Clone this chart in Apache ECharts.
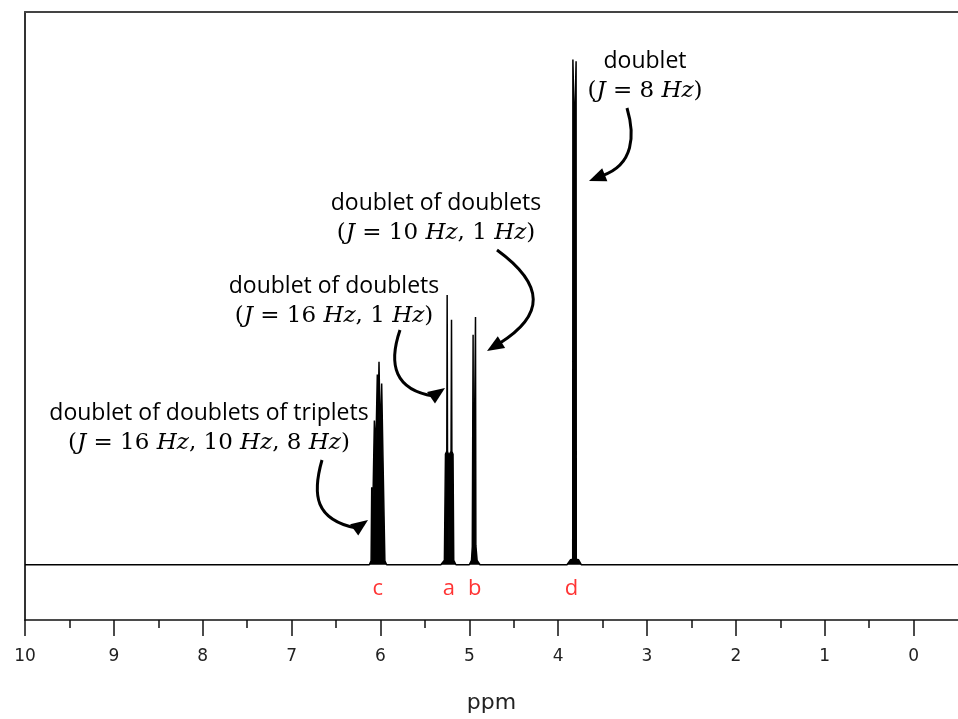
<!DOCTYPE html>
<html>
<head>
<meta charset="utf-8">
<script src="https://cdn.jsdelivr.net/npm/echarts@6/dist/echarts.min.js"></script>
<style>
  html, body { margin: 0; padding: 0; background: #fff; }
  #chart { width: 958px; height: 719px; }
</style>
</head>
<body>
<div id="chart"></div>
<script>
// spectrum trace: ppm and intensity (baseline = 0)
const specPpm = [
  10.0,
  6.125, 6.105, 6.098, 6.083, 6.068, 6.052, 6.035, 6.026, 6.016, 6.001, 5.986, 5.971, 5.956, 5.950, 5.930,
  5.320, 5.280, 5.268, 5.253, 5.249, 5.245, 5.235, 5.228, 5.222, 5.205, 5.200, 5.196, 5.183, 5.175, 5.150,
  5.000, 4.975, 4.966, 4.960, 4.957, 4.953, 4.935, 4.930, 4.926, 4.922, 4.912, 4.880,
  3.900, 3.860, 3.836, 3.834, 3.816, 3.798, 3.796, 3.770, 3.740,
  -0.5
];
const specInt = [
  0,
  0, 0.7, 14.0, 12.5, 26.1, 20.5, 34.4, 26.0, 36.7, 22.0, 32.8, 19.0, 18.9, 0.7, 0,
  0, 0.8, 20.0, 20.5, 48.8, 20.5, 20.0, 1.5, 20.0, 20.5, 44.3, 20.5, 20.0, 0.8, 0,
  0, 0.8, 3.3, 3.5, 41.6, 3.5, 3.5, 44.8, 3.5, 3.3, 0.8, 0,
  0, 0.9, 1.0, 91.4, 77.0, 91.1, 1.0, 0.9, 0,
  0
];

// peak assignment letters
const peakLabels = ['c', 'a', 'b', 'd'];
const peakLabelPpm = [6.03, 5.23, 4.94, 3.85];

// axis ticks
const majorTicks = [0, 1, 2, 3, 4, 5, 6, 7, 8, 9, 10];
const minorTicks = [0.5, 1.5, 2.5, 3.5, 4.5, 5.5, 6.5, 7.5, 8.5, 9.5];

const chart = echarts.init(document.getElementById('chart'));

const textFont = '"Open Sans", "Noto Sans", sans-serif';
const mathFont = '"DejaVu Serif", serif';

// multiplicity annotation: name line + coupling line
function note(cx, cy, title, parts) {
    const rich = {
        m: { fontFamily: mathFont, fontSize: 23, fill: '#000' },
        i: { fontFamily: mathFont, fontSize: 23, fontStyle: 'italic', fill: '#000' }
    };
    let txt = '';
    parts.forEach(function (p) {
        txt += '{' + p[0] + '|' + p[1] + '}';
    });
    return [
        {
            type: 'text', x: cx, y: cy,
            style: { text: title, font: '23px ' + textFont, fill: '#000', align: 'center', verticalAlign: 'middle' }
        },
        {
            type: 'text', x: cx, y: cy + 30,
            style: { text: txt, rich: rich, align: 'center', verticalAlign: 'middle' }
        }
    ];
}

// curved arrow: bezier shaft plus a filled head
function arrow(x1, y1, cx1, cy1, cx2, cy2, x2, y2, tipX, tipY) {
    const dx = tipX - x2, dy = tipY - y2;
    const len = Math.sqrt(dx * dx + dy * dy);
    const ux = dx / len, uy = dy / len;
    const bx = tipX - ux * 17, by = tipY - uy * 17;
    const hw = 7;
    return [
        {
            type: 'bezierCurve',
            shape: { x1: x1, y1: y1, cpx1: cx1, cpy1: cy1, cpx2: cx2, cpy2: cy2, x2: bx + ux * 3, y2: by + uy * 3 },
            style: { stroke: '#000', lineWidth: 3, fill: null }
        },
        {
            type: 'polygon',
            shape: { points: [[tipX, tipY], [bx - uy * hw, by + ux * hw], [bx + uy * hw, by - ux * hw]] },
            style: { fill: '#000' }
        }
    ];
}

let graphics = [];
graphics = graphics.concat(note(645, 61, 'doublet', [['m', '('], ['i', 'J'], ['m', ' = 8 '], ['i', 'Hz'], ['m', ')']]));
graphics = graphics.concat(note(436, 203, 'doublet of doublets', [['m', '('], ['i', 'J'], ['m', ' = 10 '], ['i', 'Hz'], ['m', ', 1 '], ['i', 'Hz'], ['m', ')']]));
graphics = graphics.concat(note(334, 286, 'doublet of doublets', [['m', '('], ['i', 'J'], ['m', ' = 16 '], ['i', 'Hz'], ['m', ', 1 '], ['i', 'Hz'], ['m', ')']]));
graphics = graphics.concat(note(209, 413, 'doublet of doublets of triplets', [['m', '('], ['i', 'J'], ['m', ' = 16 '], ['i', 'Hz'], ['m', ', 10 '], ['i', 'Hz'], ['m', ', 8 '], ['i', 'Hz'], ['m', ')']]));

graphics = graphics.concat(arrow(627, 108, 635, 135, 634, 165, 604, 175, 589, 181));
graphics = graphics.concat(arrow(497, 250, 545, 285, 545, 315, 500, 343, 487, 351));
graphics = graphics.concat(arrow(400, 330, 388, 365, 395, 390, 432, 397, 445, 388));
graphics = graphics.concat(arrow(322, 460, 312, 495, 315, 520, 354, 530, 368, 520));

const option = {
    animation: false,
    grid: { left: 25, right: -2, top: 12, bottom: 95 },
    xAxis: [
        {
            type: 'value', min: -0.5, max: 10, inverse: true, position: 'bottom',
            axisLine: { show: true, onZero: false, lineStyle: { color: '#111', width: 1.5 } },
            axisTick: { show: true, customValues: majorTicks, length: 16, lineStyle: { color: '#111', width: 1.5 } },
            axisLabel: {
                customValues: majorTicks, margin: 28, color: '#222',
                fontFamily: '"DejaVu Sans", sans-serif', fontSize: 17
            },
            splitLine: { show: false },
            name: 'ppm', nameLocation: 'middle', nameGap: 72,
            nameTextStyle: { fontFamily: '"DejaVu Sans", sans-serif', fontSize: 22, color: '#222' }
        },
        {
            type: 'value', min: -0.5, max: 10, inverse: true, position: 'bottom',
            axisLine: { show: false, onZero: false },
            axisTick: { show: true, customValues: minorTicks, length: 8, lineStyle: { color: '#111', width: 1.5 } },
            axisLabel: { show: false },
            splitLine: { show: false }
        },
        {
            type: 'value', min: -0.5, max: 10, inverse: true, position: 'top',
            axisLine: { show: true, onZero: false, lineStyle: { color: '#444', width: 2 } },
            axisTick: { show: false },
            axisLabel: { show: false },
            splitLine: { show: false }
        }
    ],
    yAxis: {
        type: 'value', min: -10, max: 100,
        axisLine: { show: true, onZero: false, lineStyle: { color: '#333', width: 2 } },
        axisTick: { show: false },
        axisLabel: { show: false },
        splitLine: { show: false }
    },
    series: [
        {
            type: 'line',
            xAxisIndex: 0,
            symbol: 'none',
            silent: true,
            lineStyle: { color: '#000', width: 1.5 },
            areaStyle: { color: '#000', opacity: 1 },
            data: specPpm.map(function (p, i) { return [p, specInt[i]]; })
        },
        {
            type: 'scatter',
            xAxisIndex: 0,
            symbolSize: 1,
            itemStyle: { color: 'rgba(0,0,0,0)' },
            silent: true,
            label: {
                show: true, position: 'inside', color: '#ff0000',
                fontFamily: textFont, fontSize: 22,
                formatter: function (p) { return peakLabels[p.dataIndex]; }
            },
            data: peakLabelPpm.map(function (p) { return [p, -4.4]; })
        }
    ],
    graphic: graphics
};
chart.setOption(option);
</script>
</body>
</html>
